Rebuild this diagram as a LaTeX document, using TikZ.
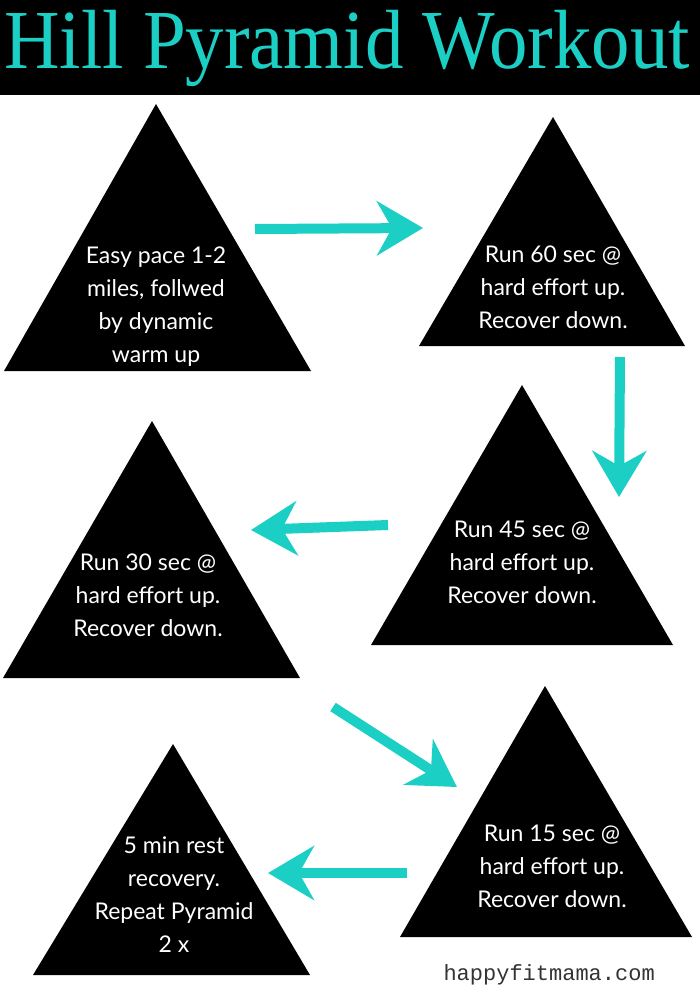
\documentclass[tikz,border=0pt]{standalone}
\usepackage{fontspec}
\setmainfont{Lato}
\newfontfamily\titlefont{Liberation Serif}
\newfontfamily\sitefont{Liberation Mono}
\usetikzlibrary{arrows.meta}
\definecolor{aqua}{HTML}{1CCFC5}
\definecolor{sitegray}{HTML}{333333}
\tikzset{
  hill/.style={
    fill=black
  },
  steptext/.style={
    text=white,
    align=center,
    inner sep=0pt,
    font=\fontsize{23}{33}\selectfont
  },
  arrow/.style={
    draw=aqua,
    line width=10pt,
    -{Stealth[length=46pt, width=54pt, inset=15pt]}
  }
}

\begin{document}
\begin{tikzpicture}[x=1pt, y=-1pt]
\useasboundingbox (0,0) rectangle (700,1000);
% title bar
\fill[black] (0,0) rectangle (700,95);
\node[text=aqua, font=\titlefont\fontsize{84}{84}\selectfont, anchor=base, inner sep=0pt] (title) at (347,69) {\scalebox{0.915}[1]{Hill Pyramid Workout}};

% hills
\fill[hill] (156,104) -- (4,371) -- (311,371) -- cycle;
\fill[hill] (553,117) -- (419,346) -- (685,346) -- cycle;
\fill[hill] (522,385) -- (371,645) -- (673,645) -- cycle;
\fill[hill] (152,421) -- (3,678) -- (300,678) -- cycle;
\fill[hill] (545,686) -- (400,937) -- (692,937) -- cycle;
\fill[hill] (173,744) -- (33,975) -- (310,975) -- cycle;

\node[steptext] (easy) at (156,307) {Easy pace 1-2\\miles, follwed\\by dynamic\\warm up};
\node[steptext] (run60) at (553,287) {Run 60 sec @\\hard effort up.\\Recover down.};
\node[steptext] (run45) at (522,562) {Run 45 sec @\\hard effort up.\\Recover down.};
\node[steptext] (run30) at (148,595) {Run 30 sec @\\hard effort up.\\Recover down.};
\node[steptext] (run15) at (552,866) {Run 15 sec @\\hard effort up.\\Recover down.};
\node[steptext] (rest) at (174,895) {5 min rest\\recovery.\\Repeat Pyramid\\2 x};

% arrow ends
\coordinate (a1s) at (255,229);
\coordinate (a1e) at (423,228);
\coordinate (a2s) at (620,357);
\coordinate (a2e) at (619,497);
\coordinate (a3s) at (388,525);
\coordinate (a3e) at (251,530);
\coordinate (a4s) at (333,707);
\coordinate (a4e) at (457,787);
\coordinate (a5s) at (407,873);
\coordinate (a5e) at (268,873);

\draw[arrow] (a1s) -- (a1e);
\draw[arrow] (a2s) -- (a2e);
\draw[arrow] (a3s) -- (a3e);
\draw[arrow] (a4s) -- (a4e);
\draw[arrow] (a5s) -- (a5e);

\node[font=\sitefont\fontsize{22}{22}\selectfont, text=sitegray, anchor=base west] (site) at (440,980) {happyfitmama.com};
\end{tikzpicture}
\end{document}
